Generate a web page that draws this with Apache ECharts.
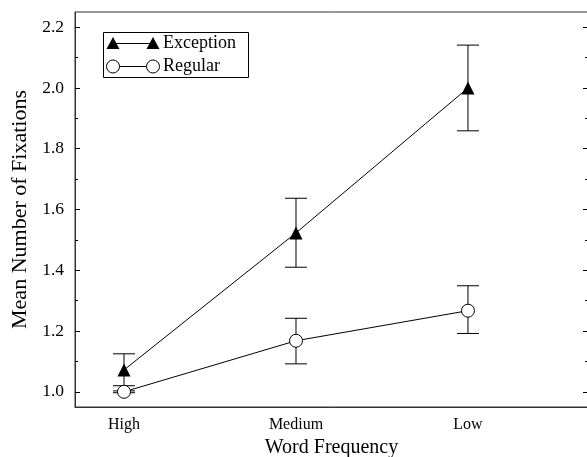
<!DOCTYPE html>
<html>
<head>
<meta charset="utf-8">
<script src="https://cdn.jsdelivr.net/npm/echarts@6/dist/echarts.min.js"></script>
<style>html,body{margin:0;padding:0;background:#fff}#c{width:587px;height:457px}</style>
</head>
<body>
<div id="c"></div>
<script>
const categories = ['High', 'Medium', 'Low'];
const exceptionMean = [1.072, 1.523, 2.0];
const exceptionLow = [1.02, 1.41, 1.859];
const exceptionHigh = [1.125, 1.637, 2.141];
const regularMean = [1.0, 1.168, 1.267];
const regularLow = [0.997, 1.092, 1.192];
const regularHigh = [1.003, 1.242, 1.349];
const yMajor = [1.0, 1.2, 1.4, 1.6, 1.8, 2.0, 2.2];
const yMinor = [1.1, 1.3, 1.5, 1.7, 1.9, 2.1];

const FONT = 'Liberation Serif';
const pts = (arr) => arr.map((v, i) => [i + 1, v]);
const bars = (lo, hi) => lo.map((v, i) => [i + 1, v, hi[i]]);

function errRender(params, api) {
  const x = api.value(0);
  const a = api.coord([x, api.value(1)]);
  const b = api.coord([x, api.value(2)]);
  const w = 11;
  const st = { stroke: '#000', lineWidth: 1 };
  return {
    type: 'group',
    children: [
      { type: 'line', shape: { x1: a[0], y1: a[1], x2: b[0], y2: b[1] }, style: st },
      { type: 'line', shape: { x1: a[0] - w, y1: a[1], x2: a[0] + w, y2: a[1] }, style: st },
      { type: 'line', shape: { x1: b[0] - w, y1: b[1], x2: b[0] + w, y2: b[1] }, style: st }
    ]
  };
}

const yBase = { type: 'value', min: 0.95, max: 2.25, gridIndex: 0, splitLine: { show: false } };
const chart = echarts.init(document.getElementById('c'), null, { renderer: 'canvas' });
chart.setOption({
  animation: false,
  backgroundColor: '#fff',
  grid: { left: 75, top: 12, width: 513, height: 395, containLabel: false, outerBoundsMode: 'none', show: true, borderColor: '#333', borderWidth: 1, backgroundColor: 'transparent' },
  xAxis: {
    type: 'value', min: 0.715, max: 3.698,
    splitLine: { show: false },
    axisLine: { show: true, lineStyle: { color: '#333', width: 1 } },
    axisTick: { show: false },
    axisLabel: {
      customValues: [1, 2, 3],
      formatter: (v) => categories[Math.round(v) - 1] || '',
      fontFamily: FONT, fontSize: 16, color: '#000', margin: 10
    },
    name: 'Word Frequency', nameLocation: 'middle', nameGap: 30,
    nameTextStyle: { fontFamily: FONT, fontSize: 20, color: '#000' }
  },
  yAxis: [
    Object.assign({}, yBase, {
      position: 'left',
      axisLine: { show: true, lineStyle: { color: '#333', width: 1 } },
      axisTick: { show: true, inside: true, length: 5, customValues: yMajor, lineStyle: { color: '#000' } },
      axisLabel: { customValues: yMajor, formatter: (v) => v.toFixed(1), fontFamily: FONT, fontSize: 17.5, color: '#000', margin: 11 },
      name: 'Mean Number of Fixations', nameLocation: 'middle', nameGap: 42,
      nameTextStyle: { fontFamily: FONT, fontSize: 22, color: '#000' }
    }),
    Object.assign({}, yBase, {
      position: 'left',
      axisLine: { show: false },
      axisTick: { show: true, inside: true, length: 3, customValues: yMinor, lineStyle: { color: '#000' } },
      axisLabel: { show: false }
    }),
    Object.assign({}, yBase, {
      position: 'right',
      axisLine: { show: false },
      axisTick: { show: true, inside: true, length: 5, customValues: yMajor, lineStyle: { color: '#000' } },
      axisLabel: { show: false }
    }),
    Object.assign({}, yBase, {
      position: 'right',
      axisLine: { show: false },
      axisTick: { show: true, inside: true, length: 3, customValues: yMinor, lineStyle: { color: '#000' } },
      axisLabel: { show: false }
    })
  ],
  series: [
    { type: 'custom', name: 'excErr', renderItem: errRender, data: bars(exceptionLow, exceptionHigh), encode: { x: 0, y: [1, 2] }, z: 1, silent: true },
    { type: 'custom', name: 'regErr', renderItem: errRender, data: bars(regularLow, regularHigh), encode: { x: 0, y: [1, 2] }, z: 1, silent: true },
    {
      type: 'line', name: 'Exception', data: pts(exceptionMean), z: 3,
      symbol: 'triangle', symbolSize: 13, showAllSymbol: true,
      lineStyle: { color: '#000', width: 1 },
      itemStyle: { color: '#000', borderColor: '#000', borderWidth: 0 }
    },
    {
      type: 'line', name: 'Regular', data: pts(regularMean), z: 3,
      symbol: 'circle', symbolSize: 13, showAllSymbol: true,
      lineStyle: { color: '#000', width: 1 },
      itemStyle: { color: '#fff', borderColor: '#000', borderWidth: 1 }
    }
  ],
  graphic: [
    {
      type: 'group', left: 103, top: 32,
      children: [
        { type: 'rect', shape: { x: 0.5, y: 0.5, width: 145, height: 45 }, style: { fill: '#fff', stroke: '#000', lineWidth: 1 } },
        { type: 'line', shape: { x1: 10, y1: 11.5, x2: 50, y2: 11.5 }, style: { stroke: '#000', lineWidth: 1 } },
        { type: 'polygon', shape: { points: [[10, 5], [16.5, 17], [3.5, 17]] }, style: { fill: '#000' } },
        { type: 'polygon', shape: { points: [[50, 5], [56.5, 17], [43.5, 17]] }, style: { fill: '#000' } },
        { type: 'text', x: 60, y: 11.5, style: { text: 'Exception', font: '18px "Liberation Serif"', fill: '#000', verticalAlign: 'middle' } },
        { type: 'line', shape: { x1: 10, y1: 34.5, x2: 50, y2: 34.5 }, style: { stroke: '#000', lineWidth: 1 } },
        { type: 'circle', shape: { cx: 10, cy: 34.5, r: 6.5 }, style: { fill: '#fff', stroke: '#000', lineWidth: 1 } },
        { type: 'circle', shape: { cx: 50, cy: 34.5, r: 6.5 }, style: { fill: '#fff', stroke: '#000', lineWidth: 1 } },
        { type: 'text', x: 60, y: 34.5, style: { text: 'Regular', font: '18px "Liberation Serif"', fill: '#000', verticalAlign: 'middle' } }
      ]
    }
  ]
});
</script>
</body>
</html>
